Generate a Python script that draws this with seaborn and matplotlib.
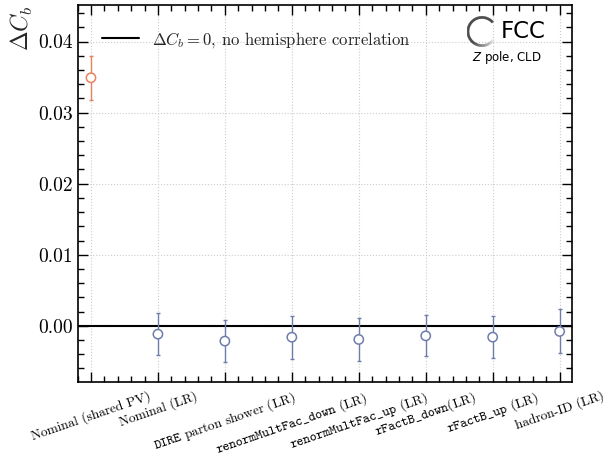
import numpy as np
import pandas as pd
import seaborn as sns
import matplotlib
matplotlib.use("Agg")
import matplotlib.pyplot as plt
from matplotlib.collections import LineCollection
from matplotlib.ticker import MultipleLocator, AutoMinorLocator, FormatStrFormatter

# Hemisphere correlation Delta C_b for each sample / variation
labels = [
    "Nominal (shared PV)",
    "Nominal (LR)",
    r"$\mathtt{DIRE}$ parton shower (LR)",
    r"$\mathtt{renormMultFac\_down}$ (LR)",
    r"$\mathtt{renormMultFac\_up}$ (LR)",
    r"$\mathtt{rFactB\_down}$(LR)",
    r"$\mathtt{rFactB\_up}$ (LR)",
    "hadron-ID (LR)",
]
delta_cb = [0.0349, -0.00117, -0.00215, -0.0016, -0.00192, -0.00141, -0.00159, -0.00079]
delta_cb_err = [0.0031, 0.0030, 0.0029, 0.0030, 0.0030, 0.0029, 0.0030, 0.0031]
group = ["shared", "LR", "LR", "LR", "LR", "LR", "LR", "LR"]

palette = {"shared": "#E8835E", "LR": "#6F7DAB"}

df = pd.DataFrame({"label": labels, "dcb": delta_cb, "err": delta_cb_err, "group": group})
df["pos"] = np.arange(len(df))

sns.set_theme(style="ticks")
plt.rcParams.update({
    "font.family": "serif",
    "font.serif": ["cmr10", "DejaVu Serif"],
    "mathtext.fontset": "cm",
    "axes.formatter.use_mathtext": True,
    "axes.unicode_minus": False,
    "axes.linewidth": 1.2,
    "axes.edgecolor": "black",
    "xtick.color": "black",
    "ytick.color": "black",
})

fig = plt.figure(figsize=(6.06, 4.59), dpi=100)
ax = fig.add_axes([0.128, 0.1678, 0.8154, 0.8207])

ax.grid(True, which="major", linestyle=":", color="#cccccc", linewidth=0.8, zorder=0)

line = ax.axhline(0, color="black", linewidth=1.5, zorder=2,
                  label=r"$\Delta C_b = 0$, no hemisphere correlation")

for g, sub in df.groupby("group"):
    ax.errorbar(sub["pos"], sub["dcb"], yerr=sub["err"], fmt="none",
                ecolor=palette[g], elinewidth=1.0, capsize=1.6, capthick=1.0, zorder=3)

sns.scatterplot(data=df, x="pos", y="dcb", hue="group", palette=palette,
                marker="o", s=45, linewidth=1.1, legend=False, ax=ax, zorder=4)
for coll in ax.collections:
    if hasattr(coll, "get_offsets") and len(coll.get_offsets()) == len(df):
        coll.set_facecolor("white")
        coll.set_edgecolor([palette[g] for g in df["group"]])

ax.set_xlim(-0.2, 7.18)
ax.set_ylim(-0.0079, 0.0451)
ax.set_xticks(df["pos"])
ax.set_xticklabels(df["label"])
ax.xaxis.set_minor_locator(AutoMinorLocator(5))
ax.yaxis.set_major_locator(MultipleLocator(0.01))
ax.yaxis.set_minor_locator(MultipleLocator(0.002))
ax.yaxis.set_major_formatter(FormatStrFormatter("%.2f"))
ax.tick_params(which="both", direction="in", top=True, right=True, width=1.0)
ax.tick_params(which="major", length=7)
ax.tick_params(axis="y", which="major", labelsize=14)
ax.tick_params(axis="x", which="major", labelsize=9.6, pad=5)
ax.tick_params(which="minor", length=4)
plt.setp(ax.get_xticklabels(), rotation=19, ha="center", va="top", fontsize=9.6)
ax.set_xlabel("")
ax.set_ylabel(r"$\Delta C_b$", fontsize=17, loc="top", labelpad=2)

ax.legend(handles=[line], loc="upper left", frameon=False, fontsize=12,
          handlelength=2.2, bbox_to_anchor=(0.02, 0.975))

# FCC logo: open ring fading from black to white, plus text
lax = fig.add_axes([466 / 606, 1 - 47 / 459, 32 / 606, 31 / 459])
lax.set_xlim(-1.1, 1.1)
lax.set_ylim(-1.1, 1.1)
lax.set_aspect("equal")
lax.axis("off")
theta = np.linspace(np.deg2rad(40), np.deg2rad(330), 300)
pts = np.column_stack([np.cos(theta), np.sin(theta)])
segs = np.stack([pts[:-1], pts[1:]], axis=1)
deg = np.rad2deg(theta[:-1])
shade = np.clip((deg - 225) / (330 - 225), 0, 1) ** 1.3
cols = [(s, s, s) for s in shade]
lax.add_collection(LineCollection(segs, colors=cols, linewidths=1.9, capstyle="butt"))

fig.text(501 / 606, 1 - 32 / 459, "FCC", fontsize=16.5, family="DejaVu Sans",
         va="center", ha="left", color="black")
fig.text(472 / 606, 1 - 58 / 459, r"$\mathit{Z}$ pole, CLD", fontsize=8.5,
         family="DejaVu Sans", va="center", ha="left", color="black",
         math_fontfamily="dejavusans")

fig.savefig("out.png", dpi=100)
